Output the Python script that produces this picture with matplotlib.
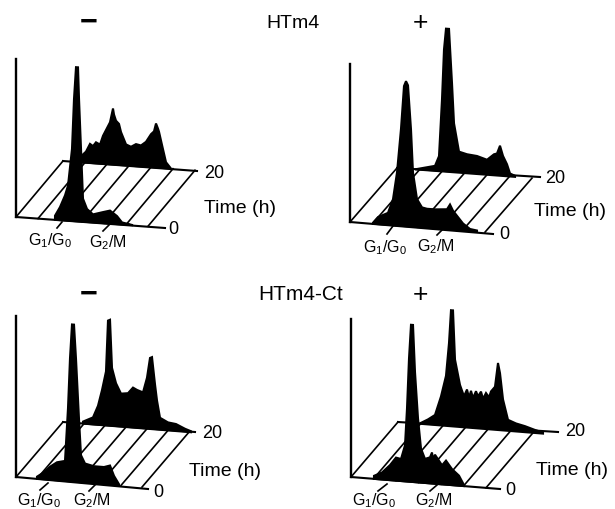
import matplotlib
matplotlib.use("Agg")
import matplotlib.pyplot as plt

plt.rcParams['font.family'] = ['Liberation Sans', 'DejaVu Sans']
plt.rcParams['mathtext.fontset'] = 'custom'
plt.rcParams['mathtext.rm'] = 'Liberation Sans'
plt.rcParams['mathtext.default'] = 'regular'

# Histogram profiles: DNA channel and cell count
# HTm4, without treatment
a_front_dna = [39, 44, 49, 52, 56, 58, 60, 62, 63, 65, 67, 71, 77, 87, 94, 101, 106, 117]
a_front_cnt = [4, 13, 25, 35, 72, 122, 154, 154, 123, 73, 23, 13, 8, 11, 13, 8, 2, 0]
a_back_dna = [18, 23, 27, 30, 33, 37, 40, 45, 47, 50, 51, 53, 56, 58, 63, 68, 73, 78, 83, 88, 91, 93, 95, 96, 99, 103, 108]
a_back_cnt = [6, 11, 19, 17, 21, 19, 28, 38, 42, 56, 50, 44, 41, 33, 21, 19, 22, 21, 25, 33, 36, 44, 39, 36, 23, 6, 0]

# HTm4, with treatment
b_front_dna = [23, 28, 38, 43, 47, 51, 54, 56, 58, 61, 63, 67, 72, 77, 85, 97, 100, 103, 108, 113, 120, 127]
b_front_cnt = [1, 7, 12, 26, 53, 97, 140, 145, 141, 97, 54, 28, 20, 19, 19, 20, 25, 19, 13, 7, 2, 1]
b_back_dna = [18, 38, 42, 45, 47, 49, 52, 55, 57, 62, 70, 80, 90, 97, 100, 103, 106, 110, 113, 118]
b_back_cnt = [0, 5, 15, 72, 122, 143, 143, 89, 49, 21, 19, 18, 15, 21, 22, 30, 20, 12, 3, 1]

# HTm4-Ct, without treatment
c_front_dna = [21, 28, 34, 41, 49, 52, 54, 56, 58, 60, 63, 65, 69, 78, 88, 94, 98, 103]
c_front_cnt = [2, 7, 13, 18, 20, 73, 123, 157, 157, 123, 63, 27, 19, 17, 17, 19, 9, 1]
c_back_dna = [20, 30, 35, 39, 43, 45, 47, 49, 53, 58, 65, 70, 74, 80, 84, 87, 89, 92, 94, 97, 105, 113, 122, 128]
c_back_cnt = [2, 7, 19, 35, 54, 105, 106, 58, 43, 33, 34, 40, 38, 36, 51, 71, 72, 45, 29, 12, 8, 7, 3, 1]

# HTm4-Ct, with treatment
d_front_dna = [23, 31, 39, 45, 50, 54, 56, 58, 60, 62, 64, 67, 70, 74, 79, 81, 82, 84, 91, 95, 101, 108, 113]
d_front_cnt = [3, 7, 15, 23, 22, 36, 73, 123, 157, 157, 110, 64, 34, 24, 26, 31, 24, 29, 19, 24, 16, 10, 1]
d_back_dna = [23, 30, 37, 43, 48, 51, 53, 55, 57, 62, 66, 69, 71, 73, 75, 78, 80, 83, 85, 88, 91, 93, 97, 100, 102, 105, 110, 118, 127, 137, 145]
d_back_cnt = [1, 5, 10, 29, 50, 83, 116, 116, 67, 42, 31, 38, 30, 37, 30, 37, 32, 37, 30, 36, 32, 38, 43, 67, 57, 31, 11, 8, 6, 3, 1]

panels = [
    dict(x0=16, y0=218, top=60, dx=47, dy=-56, step=22, slope=0.07, prof=(a_front_dna, a_front_cnt, a_back_dna, a_back_cnt),
         t0=(165, 229), t20=(197, 172), l20=(204, 174), l0=(168, 230), ltime=(204, 209),
         g1=(28, 241), g2=(89, 243), g1t=((57, 229), (62, 223)), g2t=((103, 232), (109, 226))),
    dict(x0=350, y0=223, top=65, dx=47, dy=-54, step=22.5, slope=0.075, prof=(b_front_dna, b_front_cnt, b_back_dna, b_back_cnt),
         t0=(493, 235), t20=(540, 178), l20=(545, 179), l0=(499, 235), ltime=(534, 212),
         g1=(363, 248), g2=(417, 247), g1t=((387, 235), (393, 227)), g2t=((437, 236), (443, 230))),
    dict(x0=16, y0=478, top=317, dx=47, dy=-55, step=21, slope=0.08, prof=(c_front_dna, c_front_cnt, c_back_dna, c_back_cnt),
         t0=(148, 490), t20=(195, 433), l20=(202, 434), l0=(153, 493), ltime=(189, 472),
         g1=(17, 501), g2=(73, 501), g1t=((40, 491), (48, 484)), g2t=((89, 492), (95, 486))),
    dict(x0=351, y0=478, top=320, dx=47, dy=-55, step=22.5, slope=0.08, prof=(d_front_dna, d_front_cnt, d_back_dna, d_back_cnt),
         t0=(500, 490), t20=(558, 433), l20=(565, 432), l0=(505, 491), ltime=(536, 471),
         g1=(352, 501), g2=(415, 501), g1t=((378, 492), (387, 485)), g2t=((430, 492), (437, 486))),
]

fig = plt.figure(figsize=(6.15, 5.1), dpi=100)
ax = fig.add_axes([0, 0, 1, 1])
ax.set_xlim(0, 615)
ax.set_ylim(510, 0)
ax.axis('off')


def draw_profile(p, dna, cnt, shift_x, shift_y):
    xs = [p['x0'] + shift_x + d for d in dna]
    base = [p['y0'] + shift_y + p['slope'] * d for d in dna]
    ys = [b - c for b, c in zip(base, cnt)]
    ax.fill(xs + xs[::-1], ys + base[::-1], color='black', lw=1.5, zorder=3)


for p in panels:
    front_dna, front_cnt, back_dna, back_cnt = p['prof']
    x0, y0 = p['x0'], p['y0']

    # axis, floor edges and diagonal hatching
    ax.plot([x0, x0], [p['top'], y0], color='black', lw=1.7, zorder=2)
    ax.plot([x0, p['t0'][0]], [y0, p['t0'][1]], color='black', lw=1.5, zorder=2)
    ax.plot([x0 + p['dx'], p['t20'][0]], [y0 + p['dy'], p['t20'][1]], color='black', lw=1.5, zorder=2)
    for i in range(7):
        sx = x0 + p['step'] * i
        sy = y0 + p['slope'] * p['step'] * i
        ax.plot([sx, sx + p['dx']], [sy, sy + p['dy']], color='black', lw=1.2, zorder=1)

    draw_profile(p, back_dna, back_cnt, p['dx'], p['dy'])
    draw_profile(p, front_dna, front_cnt, 0, 0)

    ax.text(p['l20'][0], p['l20'][1], '20', fontsize=13, va='center', ha='left')
    ax.text(p['l0'][0], p['l0'][1], '0', fontsize=13, va='center', ha='left')
    ax.text(p['ltime'][0], p['ltime'][1], 'Time (h)', fontsize=14, va='center', ha='left')
    ax.text(p['g1'][0], p['g1'][1], 'G$_1$/G$_0$', fontsize=11.5, va='center', ha='left')
    ax.text(p['g2'][0], p['g2'][1], 'G$_2$/M', fontsize=11.5, va='center', ha='left')
    ax.plot(*zip(*p['g1t']), color='black', lw=1.2)
    ax.plot(*zip(*p['g2t']), color='black', lw=1.2)

# Group headers
ax.text(293, 24, 'HTm4', fontsize=14, ha='center', va='center')
ax.text(301, 295, 'HTm4-Ct', fontsize=15, ha='center', va='center')
for y in (23, 295):
    ax.text(89, y, '\u2212', fontsize=22, ha='center', va='center', fontweight='bold')
    ax.text(420, y, '+', fontsize=19, ha='center', va='center')

fig.savefig("out.png", dpi=100)
